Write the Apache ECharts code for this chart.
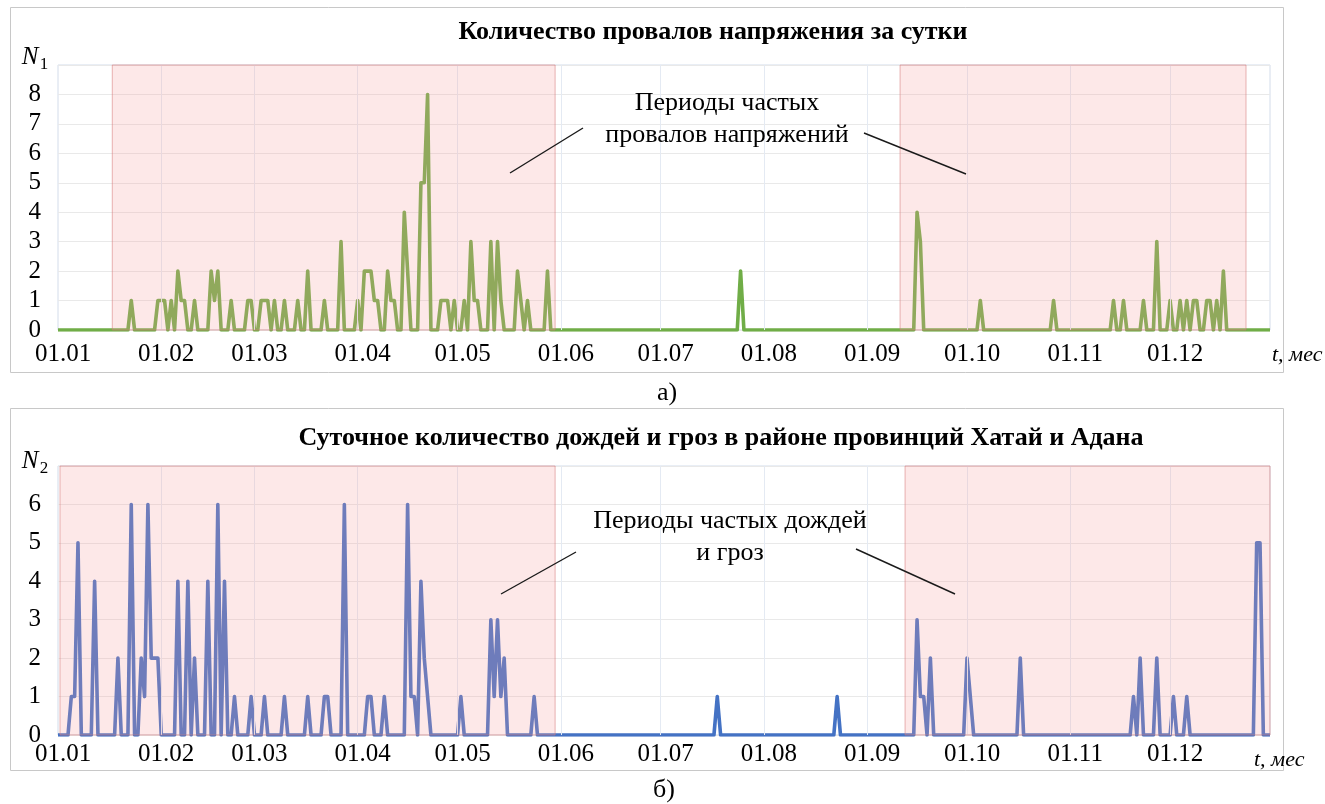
<!DOCTYPE html>
<html>
<head>
<meta charset="utf-8">
<script src="https://cdn.jsdelivr.net/npm/echarts@6/dist/echarts.min.js"></script>
<style>
  html, body { margin: 0; padding: 0; background: #ffffff; }
  #chart { width: 1325px; height: 804px; }
</style>
</head>
<body>
<div id="chart"></div>
<script>
// Day-of-year (0 = 1 January) at which each month starts, and the axis labels for them
const monthStarts = [0, 31, 59, 90, 120, 151, 181, 212, 243, 273, 304, 334];
const monthLabels = ['01.01', '01.02', '01.03', '01.04', '01.05', '01.06',
                     '01.07', '01.08', '01.09', '01.10', '01.11', '01.12'];
const lastDay = 364;

// Voltage dips per day: [day of year, count]; days not listed had none
const dipEvents = [
  [22, 1], [30, 1], [31, 1], [32, 1], [34, 1], [36, 2], [37, 1], [38, 1], [41, 1],
  [46, 2], [47, 1], [48, 2], [52, 1], [57, 1], [58, 1], [61, 1], [62, 1], [63, 1],
  [65, 1], [68, 1], [72, 1], [75, 2], [80, 1], [85, 3], [90, 1],
  [92, 2], [93, 2], [94, 2], [95, 1], [96, 1], [99, 2], [100, 1], [101, 1],
  [104, 4], [105, 2], [109, 5], [110, 5], [111, 8], [115, 1], [116, 1], [117, 1],
  [119, 1], [122, 1], [124, 3], [125, 1], [126, 1], [130, 3], [132, 3], [133, 1],
  [138, 2], [139, 1], [141, 1], [147, 2],
  [205, 2],
  [258, 4], [259, 3], [277, 1], [299, 1], [317, 1], [320, 1], [326, 1], [330, 3],
  [334, 1], [337, 1], [339, 1], [341, 1], [342, 1], [345, 1], [346, 1], [348, 1], [350, 2]
];

// Rains and thunderstorms per day in Hatay and Adana: [day of year, count]
const rainEvents = [
  [4, 1], [5, 1], [6, 5], [11, 4], [18, 2], [22, 6], [25, 2], [26, 1], [27, 6],
  [28, 2], [29, 2], [30, 2], [36, 4], [39, 4], [41, 2], [45, 4], [48, 6], [50, 4],
  [53, 1], [58, 1], [62, 1], [68, 1], [75, 1], [80, 1], [81, 1], [86, 6], [93, 1],
  [94, 1], [98, 1], [105, 6], [106, 1], [107, 1], [109, 4], [110, 2], [111, 1],
  [121, 1], [130, 3], [131, 1], [132, 3], [133, 1], [134, 2], [143, 1],
  [198, 1], [234, 1],
  [258, 3], [259, 1], [260, 1], [262, 2], [273, 2], [274, 1], [289, 2],
  [323, 1], [325, 2], [330, 2], [335, 1], [339, 1], [360, 5], [361, 5]
];

// Highlighted periods (day-of-year ranges)
const dipPeriods = [[16.3, 149.3], [252.9, 356.8]];
const rainPeriods = [[0.6, 149.3], [254.4, lastDay]];

// Y axis tops and labelled ticks
const dipAxisMax = 9, dipLabelMax = 8;
const rainAxisMax = 7, rainLabelMax = 6;

function dailySeries(events) {
  const counts = new Array(lastDay + 1).fill(0);
  events.forEach(([d, v]) => { counts[d] = v; });
  return counts.map((v, i) => [i, v]);
}

const SERIF = '"Liberation Serif", "Times New Roman", serif';
const chart = echarts.init(document.getElementById('chart'), null, { renderer: 'canvas' });

function xAxisFor(gridIndex, margin) {
  return {
    type: 'value', gridIndex, min: 0, max: lastDay,
    axisLine: { show: false }, axisTick: { show: false }, splitLine: { show: false },
    axisLabel: {
      customValues: monthStarts,
      formatter: v => monthLabels[monthStarts.indexOf(v)],
      fontFamily: SERIF, fontSize: 25, color: '#000', margin,
      padding: [0, 0, 0, 10]
    }
  };
}
function yAxisFor(gridIndex, max, labelMax) {
  return {
    type: 'value', gridIndex, min: 0, max, interval: 1,
    axisLine: { show: false }, axisTick: { show: false },
    splitLine: { show: true, lineStyle: { color: '#e9e9e9', width: 1 } },
    axisLabel: {
      formatter: v => (v <= labelMax ? String(v) : ''),
      fontFamily: SERIF, fontSize: 25, color: '#000', margin: 17
    }
  };
}
function monthLines() {
  return {
    silent: true, symbol: 'none', animation: false,
    label: { show: false },
    lineStyle: { color: '#e4eaf3', width: 1, type: 'solid' },
    data: monthStarts.slice(1).map(v => ({ xAxis: v }))
  };
}
function periods(list) {
  return {
    silent: true, z: 10,
    itemStyle: { color: 'rgba(247,160,160,0.24)', borderColor: 'rgba(214,120,120,0.55)', borderWidth: 1 },
    label: { show: false },
    data: list.map(([a, b]) => [{ xAxis: a }, { xAxis: b }])
  };
}

function text(x, y, str, extra) {
  return {
    type: 'text', x, y, silent: true, z: 100,
    style: Object.assign({ text: str, font: '26px ' + SERIF, fill: '#000',
      textAlign: 'center', textVerticalAlign: 'middle', verticalAlign: 'middle' }, extra || {})
  };
}
function line(x1, y1, x2, y2) {
  return { type: 'line', silent: true, z: 100, shape: { x1, y1, x2, y2 },
           style: { stroke: '#1a1a1a', lineWidth: 1.4 } };
}

chart.setOption({
  animation: false,
  backgroundColor: '#ffffff',
  grid: [
    { left: 58, right: 55, top: 65, height: 265, show: true, borderColor: '#d3dcea', borderWidth: 1, backgroundColor: 'transparent' },
    { left: 58, right: 55, top: 466, height: 269, show: true, borderColor: '#d3dcea', borderWidth: 1, backgroundColor: 'transparent' }
  ],
  xAxis: [xAxisFor(0, 12), xAxisFor(1, 7)],
  yAxis: [yAxisFor(0, dipAxisMax, dipLabelMax), yAxisFor(1, rainAxisMax, rainLabelMax)],
  series: [
    {
      name: 'N1', type: 'line', xAxisIndex: 0, yAxisIndex: 0, z: 3,
      data: dailySeries(dipEvents), showSymbol: false,
      lineStyle: { color: '#70ad47', width: 3.6, join: 'round' },
      markLine: monthLines(),
      markArea: periods(dipPeriods)
    },
    {
      name: 'N2', type: 'line', xAxisIndex: 1, yAxisIndex: 1, z: 3,
      data: dailySeries(rainEvents), showSymbol: false,
      lineStyle: { color: '#4472c4', width: 3.6, join: 'round' },
      markLine: monthLines(),
      markArea: periods(rainPeriods)
    }
  ],
  graphic: [
    // panel frames
    { type: 'rect', silent: true, z: 100, shape: { x: 10.5, y: 7.5, width: 1273, height: 365 },
      style: { fill: null, stroke: '#c8c8c8', lineWidth: 1 } },
    { type: 'rect', silent: true, z: 100, shape: { x: 10.5, y: 408.5, width: 1273, height: 362 },
      style: { fill: null, stroke: '#c8c8c8', lineWidth: 1 } },
    // titles
    text(713, 32, 'Количество провалов напряжения за сутки', { font: 'bold 26px ' + SERIF }),
    text(721, 438, 'Суточное количество дождей и гроз в районе провинций Хатай и Адана', { font: 'bold 26px ' + SERIF }),
    // axis names
    text(30, 57, 'N', { font: 'italic 25px ' + SERIF }),
    text(44, 65, '1', { font: '17px ' + SERIF }),
    text(30, 461, 'N', { font: 'italic 25px ' + SERIF }),
    text(44, 469, '2', { font: '17px ' + SERIF }),
    text(1272, 355, 't, мес', { font: 'italic 22px ' + SERIF, textAlign: 'left' }),
    text(1254, 760, 't, мес', { font: 'italic 22px ' + SERIF, textAlign: 'left' }),
    // panel captions
    text(667, 393, 'а)', { font: '26px ' + SERIF }),
    text(664, 790, 'б)', { font: '26px ' + SERIF }),
    // callouts
    text(727, 103, 'Периоды частых'),
    text(727, 135, 'провалов напряжений'),
    line(583, 128, 510, 173),
    line(864, 133, 966, 174),
    text(730, 521, 'Периоды частых дождей'),
    text(730, 553, 'и гроз'),
    line(576, 552, 501, 594),
    line(856, 549, 955, 594)
  ]
});
</script>
</body>
</html>
